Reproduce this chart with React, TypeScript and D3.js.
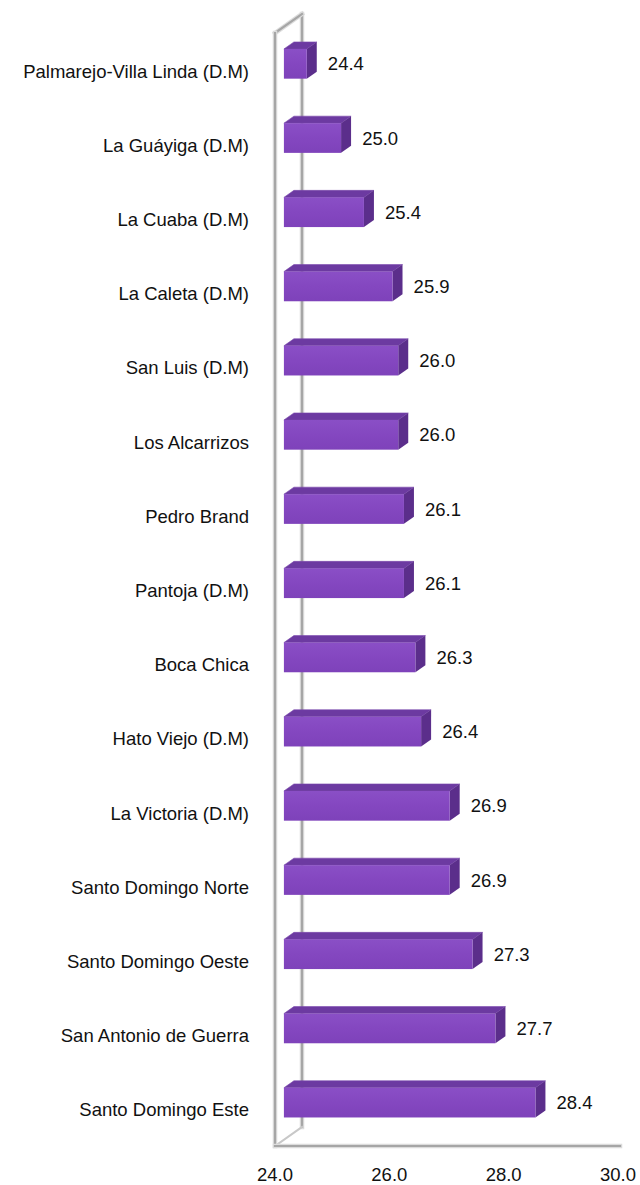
import React from "react";
import * as d3 from "d3";

const categories = [
  "Palmarejo-Villa Linda (D.M)",
  "La Guáyiga (D.M)",
  "La Cuaba (D.M)",
  "La Caleta (D.M)",
  "San Luis (D.M)",
  "Los Alcarrizos",
  "Pedro Brand",
  "Pantoja (D.M)",
  "Boca Chica",
  "Hato Viejo (D.M)",
  "La Victoria (D.M)",
  "Santo Domingo Norte",
  "Santo Domingo Oeste",
  "San Antonio de Guerra",
  "Santo Domingo Este",
];
const values = [24.4, 25.0, 25.4, 25.9, 26.0, 26.0, 26.1, 26.1, 26.3, 26.4, 26.9, 26.9, 27.3, 27.7, 28.4];
const tickValues = [24, 26, 28, 30];

const W = 640;
const H = 1185;
const FONT = "'Liberation Sans', Arial, sans-serif";

export default function App() {
  const left = 275;
  const right = 618;
  const top = 33;
  const bottom = 1146;
  const depthX = 27;
  const depthY = -19;
  const f1 = 0.33;
  const f2 = 0.7;

  const x = d3.scaleLinear().domain([24, 30]).range([left, right]);
  const y = d3.scaleBand<string>().domain(categories).range([top, bottom]).paddingInner(0.6).paddingOuter(0.3);
  const yc = d3.scaleBand<string>().domain(categories).range([top, bottom]);

  const ox1 = depthX * f1, oy1 = depthY * f1;
  const ox2 = depthX * f2, oy2 = depthY * f2;

  const line = d3.line<[number, number]>();

  return (
    <>
      <style>{`body{margin:0}`}</style>
      <svg width={W} height={H} style={{ display: "block", background: "#fff" }}>
        <defs>
          <linearGradient id="front" x1="0" y1="0" x2="0" y2="1">
            <stop offset="0" stopColor="#8a4fc6" />
            <stop offset="0.5" stopColor="#8447c0" />
            <stop offset="1" stopColor="#7e42ba" />
          </linearGradient>
        </defs>
        {/* walls */}
        <g fill="none" strokeLinecap="square">
          <path d={line([[left + depthX, top + depthY], [left + depthX, bottom + depthY]]) || ""} stroke="#dcdcdc" strokeWidth={4.5} />
          <path d={line([[left + depthX, top + depthY], [left + depthX, bottom + depthY]]) || ""} stroke="#a6a6a6" strokeWidth={2.2} />
          <path d={line([[left, bottom], [left + depthX, bottom + depthY]]) || ""} stroke="#c8c8c8" strokeWidth={2} />
          <path d={line([[left, top], [left + depthX, top + depthY]]) || ""} stroke="#dcdcdc" strokeWidth={4.5} />
          <path d={line([[left, top], [left + depthX, top + depthY]]) || ""} stroke="#a6a6a6" strokeWidth={2.2} />
          <path d={line([[left, top], [left, bottom]]) || ""} stroke="#dcdcdc" strokeWidth={4.5} />
          <path d={line([[left, top], [left, bottom]]) || ""} stroke="#a6a6a6" strokeWidth={2.2} />
          <path d={line([[left, bottom], [right + 2, bottom]]) || ""} stroke="#dcdcdc" strokeWidth={4.5} />
          <path d={line([[left, bottom], [right + 2, bottom]]) || ""} stroke="#a6a6a6" strokeWidth={2.2} />
        </g>
        {/* bars */}
        {categories.map((c, i) => {
          const v = values[i];
          const y0 = (y(c) as number) + oy1;
          const h = y.bandwidth();
          const x0 = x(24) + ox1;
          const x1 = x(v) + ox1;
          const dx = ox2 - ox1, dy = oy2 - oy1;
          const topFace = line([[x0, y0], [x0 + dx, y0 + dy], [x1 + dx, y0 + dy], [x1, y0]]) + "Z";
          const sideFace = line([[x1, y0], [x1 + dx, y0 + dy], [x1 + dx, y0 + h + dy], [x1, y0 + h]]) + "Z";
          return (
            <g key={c}>
              <path d={topFace} fill="#6c3aa1" stroke="#7a48ad" strokeWidth={0.6} />
              <path d={sideFace} fill="#5b2e8b" />
              <rect x={x0} y={y0} width={x1 - x0} height={h} fill="url(#front)" />
              <text x={x(v) + 30} y={y0 + h / 2 + 6.5} fontFamily={FONT} fontSize={18.5} fill="#111">
                {v.toFixed(1)}
              </text>
            </g>
          );
        })}
        {/* category labels */}
        {categories.map((c) => (
          <text
            key={c}
            x={249}
            y={(yc(c) as number) + yc.bandwidth() / 2 + 7.5}
            textAnchor="end"
            fontFamily={FONT}
            fontSize={18.5}
            fill="#111"
          >
            {c}
          </text>
        ))}
        {/* x tick labels */}
        {tickValues.map((t) => (
          <text key={t} x={x(t)} y={1181} textAnchor="middle" fontFamily={FONT} fontSize={18.5} fill="#111">
            {t.toFixed(1)}
          </text>
        ))}
      </svg>
    </>
  );
}
